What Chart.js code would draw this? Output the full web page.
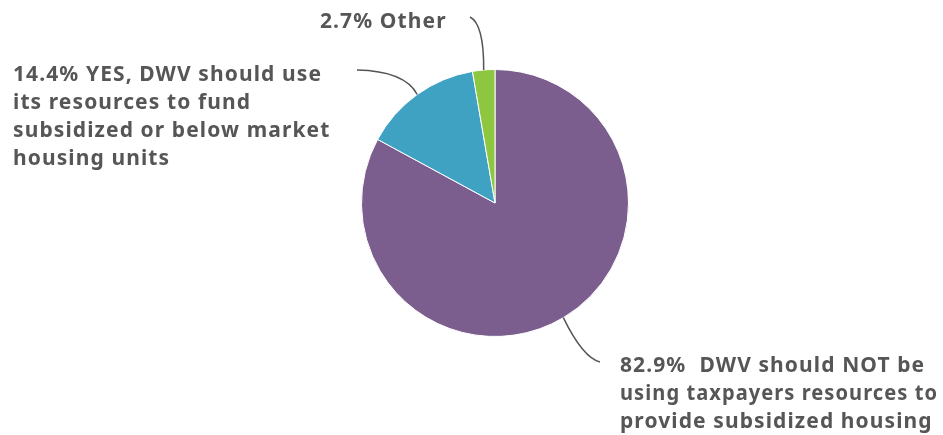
<!DOCTYPE html>
<html>
<head>
<meta charset="utf-8">
<script src="https://cdn.jsdelivr.net/npm/chart.js@4/dist/chart.umd.min.js"></script>
<style>
  html, body { margin: 0; padding: 0; background: #fff; }
  #wrap { width: 943px; height: 435px; position: relative; }
</style>
</head>
<body>
<div id="wrap"><canvas id="pie"></canvas></div>
<script>
// slice order: clockwise from 12 o'clock
const categories = ['NOT', 'YES', 'Other'];
const shares = [82.9, 14.4, 2.7];
const sliceColors = ['#7b5e8e', '#3fa2c2', '#8dc63f'];
const labelLines = [
  ['82.9%  DWV should NOT be', 'using taxpayers resources to', 'provide subsidized housing'],
  ['14.4% YES, DWV should use', 'its resources to fund', 'subsidized or below market', 'housing units'],
  ['2.7% Other'],
];

// where each callout sits (layout only)
const callouts = [
  { x: 620, y: 366, w: 318, ctrl: [583, 358], end: [600, 362] },
  { x: 13, y: 75, w: 322, ctrl: [405, 71], end: [357, 70] },
  { x: 320, y: 22, w: 130, ctrl: [484, 24], end: [470, 17] },
];

const calloutPlugin = {
  id: 'callouts',
  afterDatasetsDraw(chart) {
    const ctx = chart.ctx;
    const arcs = chart.getDatasetMeta(0).data;
    ctx.save();
    arcs.forEach((arc, i) => {
      const c = callouts[i];
      const mid = (arc.startAngle + arc.endAngle) / 2;
      const sx = arc.x + Math.cos(mid) * arc.outerRadius;
      const sy = arc.y + Math.sin(mid) * arc.outerRadius;
      ctx.beginPath();
      ctx.moveTo(sx, sy);
      ctx.quadraticCurveTo(c.ctrl[0], c.ctrl[1], c.end[0], c.end[1]);
      ctx.strokeStyle = '#555';
      ctx.lineWidth = 1.5;
      ctx.stroke();

      ctx.fillStyle = '#565656';
      ctx.font = 'bold 21px "Noto Sans", sans-serif';
      ctx.letterSpacing = '1.1px';
      ctx.textBaseline = 'middle';
      ctx.textAlign = 'left';
      labelLines[i].forEach((t, k) => ctx.fillText(t, c.x, c.y + k * 28, c.w));
    });
    ctx.restore();
  }
};

new Chart(document.getElementById('pie'), {
  type: 'pie',
  data: {
    labels: categories,
    datasets: [{
      data: shares,
      backgroundColor: sliceColors,
      borderColor: '#fff',
      borderWidth: 1,
    }],
  },
  options: {
    responsive: true,
    maintainAspectRatio: false,
    animation: false,
    layout: { padding: { left: 361, right: 314, top: 69, bottom: 98 } },
    plugins: {
      legend: { display: false },
      tooltip: { enabled: false },
    },
  },
  plugins: [calloutPlugin],
});
</script>
</body>
</html>
